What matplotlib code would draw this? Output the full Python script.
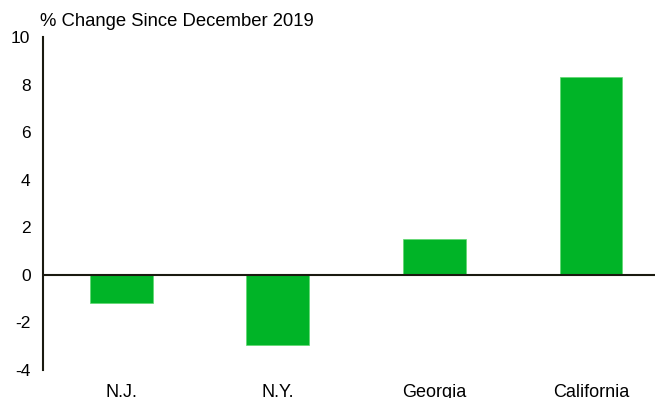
import numpy as np
import matplotlib.pyplot as plt

plt.rcParams['font.family'] = ['Liberation Sans', 'DejaVu Sans']

states = ['N.J.', 'N.Y.', 'Georgia', 'California']
change = [-1.2, -2.95, 1.5, 8.3]
yticks = [-4, -2, 0, 2, 4, 6, 8, 10]

fig = plt.figure(figsize=(6.55, 3.98), dpi=100)
ax = fig.add_axes([43 / 655, 28 / 398, 1 - 43 / 655, (370 - 37) / 398])

x = np.arange(len(states))
ax.bar(x, change, width=0.4, color='#00b427', edgecolor='#5fd86f', linewidth=0.5, zorder=2)
ax.axhline(0, color='#1a1a10', linewidth=1.5, zorder=3)

ax.set_xlim(-0.5, 3.41)
ax.set_ylim(-4, 10)
ax.set_yticks(yticks)
ax.set_yticklabels([str(t) for t in yticks], fontsize=12.5)
ax.set_xticks(x)
ax.set_xticklabels(states, fontsize=13)
ax.tick_params(axis='y', length=0, pad=9)
ax.tick_params(axis='x', length=0, pad=10)

for s in ['top', 'right', 'bottom']:
    ax.spines[s].set_visible(False)
ax.spines['left'].set_color('#1a1a10')
ax.spines['left'].set_linewidth(1.5)

fig.text(40 / 655, 1 - 21 / 398, '% Change Since December 2019', fontsize=13.3, va='center', ha='left')

fig.savefig('out.png', dpi=100)
